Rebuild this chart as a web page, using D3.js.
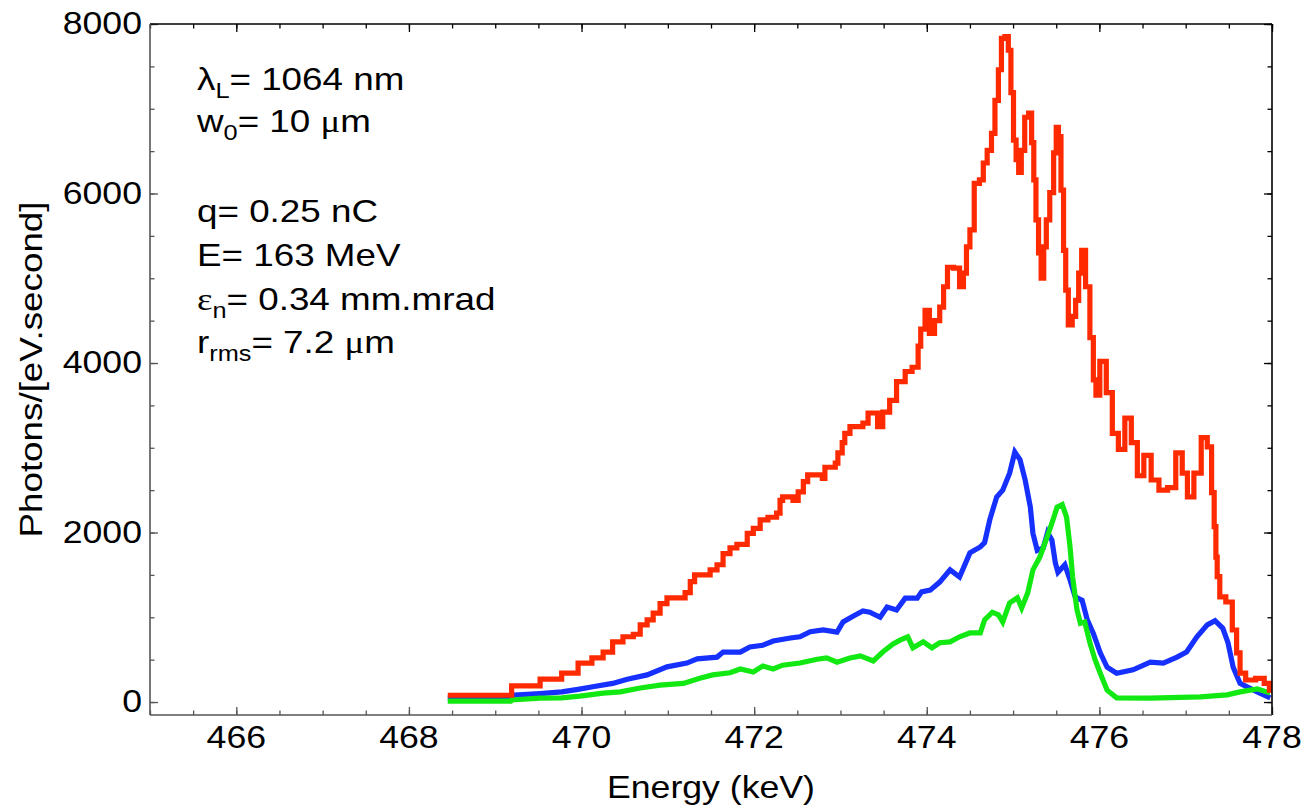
<!DOCTYPE html>
<html>
<head>
<meta charset="utf-8">
<script src="https://cdn.jsdelivr.net/npm/d3@7"></script>
<style>
  body { margin: 0; background: #fff; }
  svg { display: block; }
  text { font-family: "Liberation Sans", Arial, Helvetica, sans-serif; fill: #000; }
</style>
</head>
<body>
<div id="chart"></div>
<script>
// spectrum data (energy in keV, photons per eV.second)
const energyRed = [468.45, 469.19, 469.52, 469.77, 469.96, 470.12, 470.25, 470.36, 470.48, 470.60, 470.68, 470.76, 470.83, 470.91, 470.99, 471.20, 471.26, 471.31, 471.49, 471.57, 471.64, 471.72, 471.80, 471.92, 471.99, 472.07, 472.16, 472.26, 472.30, 472.33, 472.45, 472.51, 472.57, 472.62, 472.79, 472.82, 472.94, 472.97, 473.02, 473.05, 473.11, 473.26, 473.32, 473.43, 473.49, 473.57, 473.65, 473.75, 473.83, 473.90, 473.96, 474.00, 474.06, 474.12, 474.18, 474.21, 474.27, 474.35, 474.41, 474.44, 474.48, 474.52, 474.58, 474.64, 474.67, 474.73, 474.77, 474.81, 474.85, 474.88, 474.93, 474.96, 474.99, 475.02, 475.05, 475.08, 475.11, 475.16, 475.20, 475.23, 475.25, 475.28, 475.31, 475.34, 475.37, 475.40, 475.45, 475.49, 475.51, 475.54, 475.57, 475.60, 475.62, 475.66, 475.71, 475.74, 475.78, 475.81, 475.87, 475.91, 475.95, 475.97, 476.04, 476.12, 476.18, 476.26, 476.33, 476.41, 476.47, 476.56, 476.64, 476.74, 476.84, 476.93, 476.99, 477.05, 477.14, 477.22, 477.28, 477.32, 477.34, 477.36, 477.37, 477.42, 477.51, 477.57, 477.61, 477.65, 477.74, 477.88, 477.94, 478.0];
const photonsRed = [80, 190, 270, 340, 460, 520, 590, 710, 770, 800, 910, 970, 1050, 1160, 1230, 1290, 1420, 1500, 1560, 1620, 1750, 1820, 1860, 1990, 2050, 2150, 2180, 2230, 2380, 2420, 2380, 2480, 2600, 2680, 2640, 2770, 2820, 2940, 3060, 3170, 3250, 3290, 3410, 3250, 3420, 3560, 3780, 3900, 3950, 4200, 4400, 4620, 4350, 4500, 4660, 4900, 5130, 5120, 4900, 5060, 5370, 5570, 6120, 6160, 6360, 6510, 6710, 7100, 7460, 7830, 7850, 7690, 7190, 6630, 6400, 6250, 6510, 6900, 6950, 6600, 6160, 5690, 5300, 5000, 5370, 5690, 6010, 6480, 6780, 6670, 6040, 5330, 4860, 4450, 4550, 4740, 5060, 5330, 4900, 4300, 3800, 3620, 4020, 3650, 3170, 2980, 3350, 3060, 2670, 2910, 2620, 2500, 2530, 2940, 2700, 2420, 2700, 3120, 3010, 2470, 2070, 1710, 1480, 1240, 1180, 850, 580, 340, 260, 280, 220, 140];

const energyBlue = [468.45, 469.18, 469.19, 469.52, 469.77, 469.96, 470.13, 470.36, 470.53, 470.76, 470.99, 471.22, 471.34, 471.57, 471.64, 471.84, 471.95, 472.10, 472.22, 472.42, 472.53, 472.65, 472.80, 472.96, 473.03, 473.15, 473.26, 473.34, 473.46, 473.54, 473.65, 473.75, 473.89, 473.94, 474.04, 474.15, 474.27, 474.38, 474.50, 474.62, 474.67, 474.73, 474.81, 474.88, 474.96, 475.02, 475.08, 475.14, 475.20, 475.23, 475.28, 475.35, 475.40, 475.45, 475.49, 475.52, 475.60, 475.66, 475.72, 475.80, 475.86, 475.93, 476.01, 476.09, 476.20, 476.39, 476.59, 476.74, 476.90, 477.01, 477.13, 477.25, 477.34, 477.43, 477.49, 477.55, 477.63, 477.74, 477.86, 477.98];
const photonsBlue = [45, 45, 80, 100, 120, 150, 180, 220, 270, 320, 415, 460, 510, 530, 590, 590, 650, 670, 720, 755, 770, 830, 850, 825, 945, 1015, 1075, 1060, 1000, 1120, 1085, 1225, 1225, 1300, 1320, 1415, 1560, 1475, 1760, 1830, 1880, 2150, 2420, 2500, 2700, 2950, 2860, 2620, 2300, 1990, 1790, 1820, 2000, 1910, 1640, 1530, 1620, 1440, 1240, 1200, 970, 810, 580, 410, 340, 380, 470, 460, 530, 590, 770, 910, 960, 870, 700, 410, 220, 165, 105, 50];

const energyGreen = [468.45, 469.18, 469.19, 469.52, 469.77, 469.98, 470.25, 470.45, 470.68, 470.91, 471.18, 471.37, 471.52, 471.72, 471.84, 471.99, 472.10, 472.22, 472.33, 472.53, 472.73, 472.84, 472.96, 473.11, 473.23, 473.38, 473.49, 473.61, 473.69, 473.78, 473.84, 473.96, 474.06, 474.15, 474.27, 474.38, 474.50, 474.62, 474.67, 474.76, 474.83, 474.88, 474.96, 475.05, 475.10, 475.17, 475.23, 475.31, 475.39, 475.45, 475.51, 475.57, 475.62, 475.66, 475.69, 475.74, 475.78, 475.83, 475.89, 475.95, 476.01, 476.09, 476.20, 476.59, 477.17, 477.48, 477.63, 477.83, 477.98];
const photonsGreen = [10, 10, 24, 45, 50, 70, 105, 120, 165, 200, 220, 280, 320, 345, 390, 355, 425, 390, 435, 460, 505, 520, 470, 520, 545, 485, 590, 685, 730, 770, 640, 710, 640, 700, 710, 770, 815, 815, 970, 1060, 1030, 945, 1170, 1230, 1110, 1290, 1560, 1710, 1935, 2110, 2300, 2330, 2180, 1830, 1475, 1090, 930, 945, 700, 500, 340, 140, 50, 47, 60, 85, 120, 155, 105];

const xTicks = [466, 468, 470, 472, 474, 476, 478];
const yTicks = [0, 2000, 4000, 6000, 8000];

const annotations = [
    [["λ"], ["L", "sub"], ["= 1064 nm"]],
    [["w"], ["0", "sub"], ["= 10 "], ["μ", "greek"], ["m"]],
    [],
    [["q= 0.25 nC"]],
    [["E= 163 MeV"]],
    [["ε", "greek"], ["n", "sub"], ["= 0.34 mm.mrad"]],
    [["r"], ["rms", "sub"], ["= 7.2 "], ["μ", "greek"], ["m"]]
];

var width = 1303,
    height = 808,
    plotLeft = 150, plotRight = 1272, plotTop = 24, plotBottom = 715,
    stretch = 1.15,
    coarseBinsEnd = 473.9;   // red histogram has wide bins below this energy

var svg = d3.select("#chart").append("svg")
    .attr("width", width)
    .attr("height", height);

var x = d3.scaleLinear().domain([465, 478]).range([plotLeft, plotRight]);
var y = d3.scaleLinear().domain([-153, 8000]).range([plotBottom, plotTop]);

svg.append("clipPath").attr("id", "plot-clip")
    .append("rect")
    .attr("x", plotLeft).attr("y", plotTop)
    .attr("width", plotRight - plotLeft).attr("height", plotBottom - plotTop);

function series(energy, photons) {
    return energy.map((e, i) => ({ e: e, v: photons[i] }));
}

var stepAfterLine = d3.line().x(d => x(d.e)).y(d => y(d.v)).curve(d3.curveStepAfter);
var stepMidLine = d3.line().x(d => x(d.e)).y(d => y(d.v)).curve(d3.curveStep);
var plainLine = d3.line().x(d => x(d.e)).y(d => y(d.v));

function drawPath(d, color) {
    svg.append("path")
        .attr("clip-path", "url(#plot-clip)")
        .attr("fill", "none")
        .attr("stroke", color)
        .attr("stroke-width", 5.2)
        .attr("stroke-linejoin", "miter")
        .attr("stroke-miterlimit", 3)
        .attr("d", d);
}

var red = series(energyRed, photonsRed);
var cut = red.findIndex(d => d.e >= coarseBinsEnd);
var redPath = stepAfterLine(red.slice(0, cut + 1)) + stepMidLine(red.slice(cut)).replace(/^M/, "L");

drawPath(plainLine(series(energyBlue, photonsBlue)), "#1530ff");
drawPath(plainLine(series(energyGreen, photonsGreen)), "#12e812");
drawPath(redPath, "#ff2a00");

// frame ticks, all pointing inwards
var minorX = d3.range(465, 478.01, 0.5);
var minorY = d3.range(0, 8000.1, 500);

function addAxis(axis, transform, color) {
    var g = svg.append("g").attr("transform", transform).call(axis);
    g.selectAll("text").remove();
    g.select(".domain").remove();
    g.selectAll(".tick line").attr("stroke", color).attr("stroke-width", 1.3);
    return g;
}

addAxis(d3.axisBottom(x).tickValues(minorX).tickSizeInner(-4.5), `translate(0,${plotBottom})`, "#555");
addAxis(d3.axisBottom(x).tickValues(xTicks).tickSizeInner(-8), `translate(0,${plotBottom})`, "#555");
addAxis(d3.axisTop(x).tickValues(minorX).tickSizeInner(-4.5), `translate(0,${plotTop})`, "#000");
addAxis(d3.axisTop(x).tickValues(xTicks).tickSizeInner(-8), `translate(0,${plotTop})`, "#000");
addAxis(d3.axisLeft(y).tickValues(minorY).tickSizeInner(-4.5), `translate(${plotLeft},0)`, "#555");
addAxis(d3.axisLeft(y).tickValues(yTicks).tickSizeInner(-8), `translate(${plotLeft},0)`, "#555");
addAxis(d3.axisRight(y).tickValues(minorY).tickSizeInner(-4.5), `translate(${plotRight},0)`, "#000");
addAxis(d3.axisRight(y).tickValues(yTicks).tickSizeInner(-8), `translate(${plotRight},0)`, "#000");

// frame
function frameLine(x1, y1, x2, y2, color) {
    svg.append("line")
        .attr("x1", x1).attr("y1", y1).attr("x2", x2).attr("y2", y2)
        .attr("stroke", color).attr("stroke-width", 1.6);
}
frameLine(plotLeft, plotTop, plotRight, plotTop, "#000");
frameLine(plotRight, plotTop, plotRight, plotBottom, "#000");
frameLine(plotLeft, plotBottom, plotRight, plotBottom, "#555");
frameLine(plotLeft, plotTop, plotLeft, plotBottom, "#555");

// labels, slightly widened to match the original face
function label(px, py, str, size, anchor, rotate) {
    return svg.append("text")
        .attr("transform", `translate(${px},${py}) rotate(${rotate || 0}) scale(${stretch},1)`)
        .attr("text-anchor", anchor)
        .style("font-size", size + "px")
        .text(str);
}

xTicks.forEach(t => label(x(t), 748, t, 31, "middle"));
yTicks.forEach(t => label(142, y(t) + 10, t, 31, "end"));

label((plotLeft + plotRight) / 2, 798, "Energy (keV)", 31, "middle");
label(42, (plotTop + plotBottom) / 2, "Photons/[eV.second]", 32, "middle", -90);

var lineY = [90, 132, 177, 222, 266, 310, 353];
annotations.forEach((parts, i) => {
    if (!parts.length) return;
    var t = svg.append("text")
        .attr("transform", `translate(197,${lineY[i]}) scale(${stretch},1)`)
        .style("font-size", "32px");
    var shifted = false;
    parts.forEach(p => {
        var s = t.append("tspan").text(p[0]);
        if (p[1] === "sub") {
            s.style("font-size", "22px").attr("dy", 8);
            shifted = true;
        } else {
            if (shifted) { s.attr("dy", -8); shifted = false; }
            if (p[1] === "greek") s.style("font-family", "'Liberation Serif', 'Times New Roman', serif");
        }
    });
});
</script>
</body>
</html>
